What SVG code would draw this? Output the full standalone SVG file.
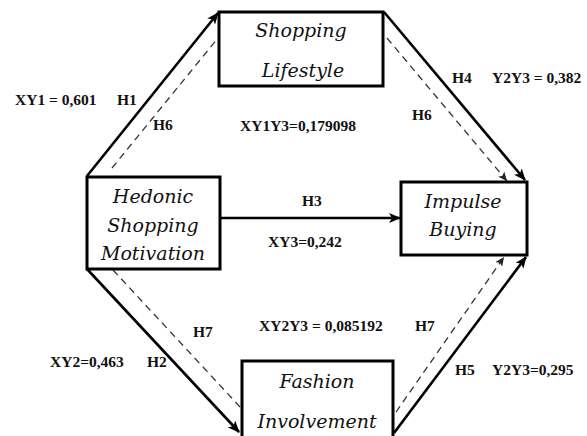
<svg xmlns="http://www.w3.org/2000/svg" width="587" height="436" viewBox="0 0 587 436">
<style>
.box{fill:#fff;stroke:#000;stroke-width:3}
.nt{font-family:"DejaVu Serif",serif;font-style:italic;font-size:19px;fill:#111;text-anchor:middle}
.lb{font-family:"Liberation Serif","Times New Roman",serif;font-weight:bold;font-size:15.5px;fill:#111}
.solid{stroke:#000;stroke-width:2.6;fill:none}
.dash{stroke:#333;stroke-width:1.3;fill:none;stroke-dasharray:7 5}
</style>
<defs>
<marker id="ah" markerUnits="userSpaceOnUse" markerWidth="12" markerHeight="10" refX="11" refY="5" orient="auto">
<path d="M0,0 L12,5 L0,10 L3,5 z" fill="#000"/>
</marker>
<marker id="ahs" markerUnits="userSpaceOnUse" markerWidth="9" markerHeight="8" refX="9" refY="4" orient="auto">
<path d="M0,0 L9,4 L0,8 L2,4 z" fill="#222"/>
</marker>
</defs>
<g id="connectors">
<line class="solid" x1="87" y1="176" x2="218" y2="13" marker-end="url(#ah)"/>
<line class="dash" x1="112" y1="168" x2="218" y2="38"/>
<line class="solid" x1="384" y1="12" x2="525" y2="180" marker-end="url(#ah)"/>
<line class="dash" x1="387" y1="38" x2="507" y2="181" marker-end="url(#ahs)"/>
<line class="solid" x1="220" y1="218" x2="400" y2="218" marker-end="url(#ah)"/>
<line class="solid" x1="87" y1="269" x2="239" y2="432" marker-end="url(#ah)"/>
<line class="dash" x1="113" y1="270" x2="241" y2="408"/>
<line class="solid" x1="394" y1="433" x2="526" y2="257" marker-end="url(#ah)"/>
<line class="dash" x1="396" y1="412" x2="504" y2="257" marker-end="url(#ahs)"/>
</g>
<g id="shopping-lifestyle">
<rect class="box" x="219" y="12" width="164" height="74"/>
<text class="nt" x="301" y="37">Shopping</text>
<text class="nt" x="303" y="77">Lifestyle</text>
</g>
<g id="hedonic-shopping-motivation">
<rect class="box" x="87" y="177" width="133" height="92"/>
<text class="nt" x="153" y="203">Hedonic</text>
<text class="nt" x="153" y="232">Shopping</text>
<text class="nt" x="153" y="260">Motivation</text>
</g>
<g id="impulse-buying">
<rect class="box" x="401" y="182" width="126" height="73"/>
<text class="nt" x="463" y="208">Impulse</text>
<text class="nt" x="463" y="236">Buying</text>
</g>
<g id="fashion-involvement">
<rect class="box" x="242" y="361" width="151" height="80"/>
<text class="nt" x="317" y="388">Fashion</text>
<text class="nt" x="317" y="428">Involvement</text>
</g>
<g id="labels">
<text class="lb" x="15" y="105">XY1 = 0,601</text>
<text class="lb" x="117" y="105">H1</text>
<text class="lb" x="153" y="130">H6</text>
<text class="lb" x="240" y="131">XY1Y3=0,179098</text>
<text class="lb" x="452" y="83">H4</text>
<text class="lb" x="492" y="83">Y2Y3 = 0,382</text>
<text class="lb" x="412" y="120">H6</text>
<text class="lb" x="302" y="206">H3</text>
<text class="lb" x="268" y="247">XY3=0,242</text>
<text class="lb" x="193" y="337">H7</text>
<text class="lb" x="259" y="331">XY2Y3 = 0,085192</text>
<text class="lb" x="415" y="331">H7</text>
<text class="lb" x="50" y="367">XY2=0,463</text>
<text class="lb" x="147" y="367">H2</text>
<text class="lb" x="455" y="375">H5</text>
<text class="lb" x="492" y="375">Y2Y3=0,295</text>
</g>
</svg>
